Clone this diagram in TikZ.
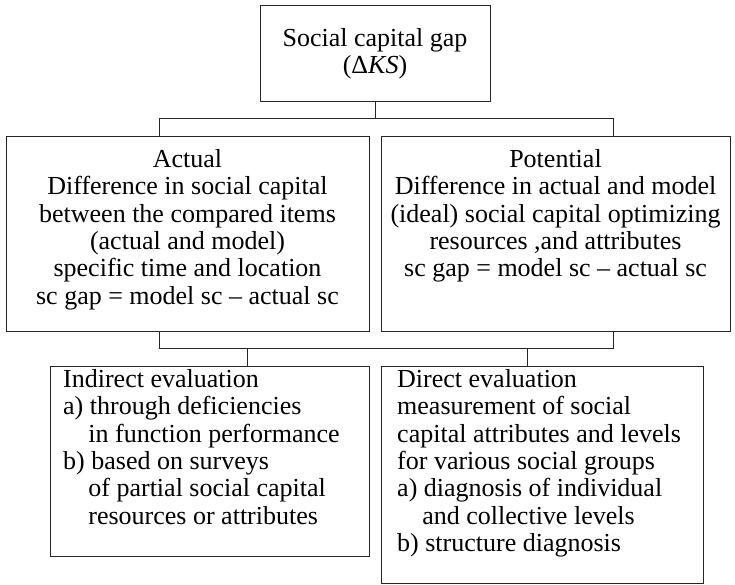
\documentclass[tikz,border=0pt]{standalone}
\usepackage{fontspec}
\setmainfont{Liberation Serif}
\begin{document}
\begin{tikzpicture}[x=1pt,y=-1pt,
  box/.style={draw=black!85, line width=0.8pt, inner sep=0pt},
  txt/.style={inner sep=0pt, font=\fontsize{26}{27.4}\selectfont},
  link/.style={draw=black!85, line width=0.8pt}]
\useasboundingbox (0,0) rectangle (735,585);
% frames
\node[box, minimum width=230, minimum height=96]  (gap)       at (375,53)      {};
\node[box, minimum width=363, minimum height=195] (actual)    at (187.5,233.5) {};
\node[box, minimum width=349, minimum height=195] (potential) at (555.5,233.5) {};
\node[box, minimum width=319, minimum height=190] (indirect)  at (209.5,461)   {};
\node[box, minimum width=322, minimum height=217] (direct)    at (542,474.5)   {};
% texts
\node[txt, align=center] (gaptext) at (375,54) {Social capital gap\\(Δ\textit{KS})};
\node[txt, align=center, anchor=north] (actualtext) at (187.5,149)
  {Actual\\Difference in social capital\\between the compared items\\(actual and model)\\specific time and location\\sc gap = model sc – actual sc};
\node[txt, align=center, anchor=north] (potentialtext) at (555.5,149)
  {Potential\\Difference in actual and model\\(ideal) social capital optimizing\\resources ,and attributes\\sc gap = model sc – actual sc};
\node[txt, align=left, anchor=north west] (indirecttext) at (63,369)
  {Indirect evaluation\\a) through deficiencies\\\hspace*{0.97em}in function performance\\b) based on surveys\\\hspace*{0.97em}of partial social capital\\\hspace*{0.97em}resources or attributes};
\node[txt, align=left, anchor=north west] (directtext) at (397,369)
  {Direct evaluation\\measurement of social\\capital attributes and levels\\for various social groups\\a) diagnosis of individual\\\hspace*{0.97em}and collective levels\\b) structure diagnosis};
% junction points
\coordinate (ja) at (159,118);
\coordinate (jp) at (613,118);
\coordinate (ka) at (159,348);
\coordinate (kp) at (613,348);
\coordinate (ki) at (247,348);
\coordinate (kd) at (527,348);
% upper tree
\draw[link] (gap.south) -- (gap.south |- ja);
\draw[link] (ja |- actual.north) -- (ja) -- (jp) -- (jp |- potential.north);
% lower tree
\draw[link] (ka |- actual.south) -- (ka) -- (kp) -- (kp |- potential.south);
\draw[link] (ki) -- (ki |- indirect.north);
\draw[link] (kd) -- (kd |- direct.north);
\end{tikzpicture}
\end{document}
